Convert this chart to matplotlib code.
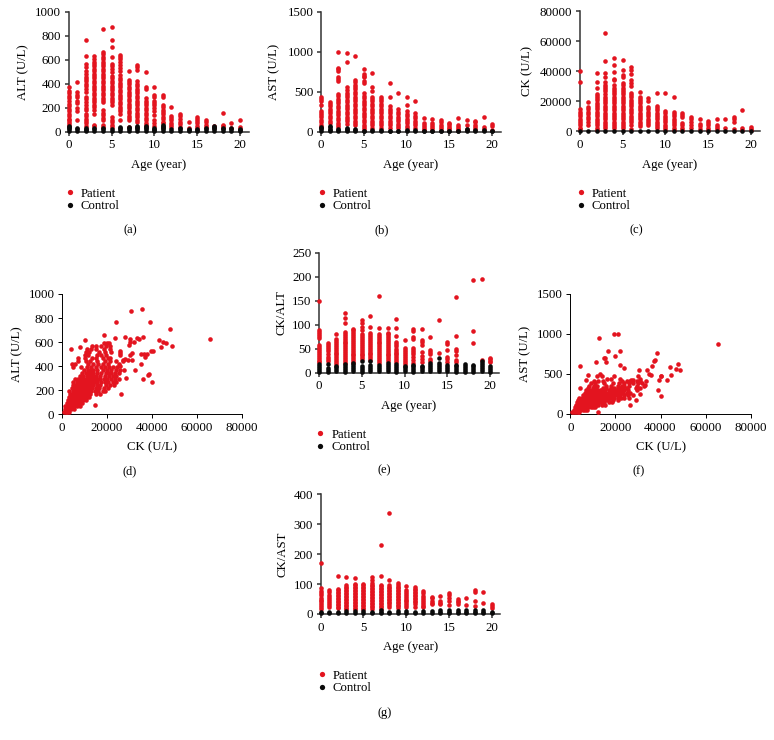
import matplotlib
matplotlib.use("Agg")
import matplotlib.pyplot as plt

W, H = 774, 740
RED = "#e3141f"
BLACK = "#0a0a0a"
SPINE = "#333333"
TICK_SIZE = 9.3
LABEL_SIZE = 9.2
MARKER = 3.3

plt.rcParams["font.family"] = ["Liberation Serif", "DejaVu Serif"]

AGES = list(range(21))
AGE_TICKS = [0, 5, 10, 15, 20]

# ===================== values, one inner list per age =====================

alt_patient = [
    [375, 340, 320, 300, 280, 260, 235, 215, 190, 170, 150, 130, 110, 95, 80, 65, 50],
    [415, 330, 310, 290, 260, 240, 200, 175, 95],
    [770, 635, 565, 540, 510, 480, 460, 440, 420, 400, 380, 360, 330, 290, 270, 250, 225, 200, 180, 150, 130, 110, 90, 70, 50],
    [630, 605, 585, 565, 545, 525, 505, 485, 465, 445, 425, 405, 385, 365, 345, 325, 305, 285, 265, 245, 225, 205, 185, 145, 55, 45],
    [855, 665, 645, 625, 605, 585, 565, 545, 525, 505, 485, 465, 445, 425, 405, 385, 365, 345, 325, 305, 285, 265, 245, 180, 160, 140, 115, 95, 60, 40],
    [875, 765, 705, 625, 565, 545, 525, 495, 465, 445, 425, 405, 385, 365, 345, 325, 305, 285, 265, 245, 220, 120, 100, 80, 60, 40],
    [640, 625, 605, 585, 560, 535, 510, 470, 450, 430, 410, 390, 370, 350, 330, 310, 290, 270, 250, 230, 210, 190, 170, 150, 100],
    [510, 435, 415, 395, 375, 355, 335, 315, 295, 275, 255, 235, 215, 195, 175, 155, 135, 115, 95, 40],
    [560, 540, 515, 420, 400, 380, 360, 340, 320, 300, 280, 260, 240, 220, 200, 180, 160, 140, 120, 100, 80],
    [500, 375, 355, 280, 260, 240, 220, 200, 180, 160, 140, 115, 95, 75, 60],
    [375, 310, 290, 260, 240, 220, 200, 175, 140, 95, 70, 45],
    [305, 290, 225, 205, 185, 165, 145, 125, 105, 85, 70],
    [205, 135, 115, 95, 75, 55, 40],
    [150, 130, 110, 85, 65, 40],
    [80, 30],
    [120, 105, 90, 70, 50, 35],
    [100, 85, 60, 40],
    [45, 35],
    [155, 60, 45, 30],
    [75, 30],
    [100, 40, 25],
]
alt_control = [
    [50, 40, 30, 20, 10], [30, 20, 10], [35, 25, 15, 8], [30, 20, 10], [30, 20, 10],
    [20, 10], [40, 30, 20, 10], [40, 30, 20, 10], [50, 40, 30, 20, 10], [50, 40, 30, 20, 10],
    [35, 25, 15, 8], [60, 50, 40, 30, 20, 10], [20, 10], [30, 20, 10], [25, 15, 8],
    [25, 15, 8], [30, 20, 10], [50, 40, 30, 20, 10], [30, 20, 10], [30, 20, 10], [25, 15, 8],
]

ast_patient = [
    [430, 410, 380, 340, 260, 235, 210, 180, 150, 120, 90, 60],
    [370, 345, 320, 290, 260, 230, 200, 170, 140, 105],
    [1005, 800, 780, 760, 680, 660, 640, 475, 445, 415, 385, 355, 325, 295, 265, 235, 205, 175, 145, 115, 85, 60],
    [990, 875, 565, 520, 490, 460, 430, 400, 370, 340, 310, 280, 250, 220, 190, 160, 130, 100],
    [945, 650, 620, 590, 560, 530, 500, 470, 440, 410, 380, 350, 320, 290, 260, 230, 200, 170, 140, 110, 80],
    [790, 720, 700, 680, 640, 610, 480, 450, 420, 390, 360, 330, 300, 270, 240, 210, 180, 150, 120, 90, 60, 35],
    [735, 560, 510, 440, 410, 380, 350, 320, 290, 260, 230, 200, 170, 140, 110, 80, 50],
    [440, 410, 380, 350, 320, 290, 260, 230, 200, 170, 140, 110, 80, 50],
    [610, 440, 320, 290, 260, 230, 200, 170, 140, 110, 80, 50],
    [485, 280, 250, 220, 190, 160, 130, 100, 70, 45],
    [440, 335, 255, 225, 195, 165, 135, 105, 75, 45],
    [390, 230, 200, 170, 140, 110, 80, 50],
    [175, 115, 90, 60, 40, 25],
    [160, 110, 85, 60, 35],
    [145, 125, 90, 65, 40],
    [115, 100, 75, 50, 30],
    [175, 90, 65, 40, 20],
    [150, 80, 40],
    [140, 120, 85, 55, 30],
    [190, 60, 35],
    [95, 75, 25],
]
ast_control = [
    [60, 45, 30, 15], [70, 55, 40, 25, 12], [40, 25, 12], [50, 35, 20, 10], [35, 20, 10],
    [15, 8], [25, 12], [20, 10], [15, 8], [15, 8],
    [20, 10], [20, 10], [15, 8], [15, 8], [15, 8],
    [15, 8], [15, 8], [40, 25, 12], [25, 12], [25, 12], [15, 8],
]

ck_patient = [
    [40000, 32500, 14500, 13000, 11500, 10000, 8500, 7000, 5500, 4000, 2500, 1200],
    [19500, 16000, 14500, 13000, 11500, 9500, 8000, 6000, 4000],
    [39000, 33000, 28500, 25000, 23500, 22000, 20500, 19000, 17500, 16000, 14500, 13000, 11500, 10000, 8500, 7000, 5500, 4000, 2500, 1000],
    [65500, 46500, 39000, 36000, 33000, 31000, 29500, 28000, 26500, 25000, 23000, 21500, 20000, 18500, 17000, 15500, 14000, 12500, 11000, 9500, 8000, 6500, 5000, 3500, 2000],
    [48500, 44000, 39500, 35000, 34000, 30500, 29000, 27500, 26000, 24500, 23000, 21500, 20000, 18500, 17000, 15500, 14000, 12500, 11000, 9500, 8000, 6500, 5000, 3500, 2000],
    [47500, 40500, 37500, 36000, 32000, 30500, 29000, 27500, 26000, 24500, 23000, 21500, 20000, 18500, 17000, 15500, 14000, 12500, 11000, 9500, 8000, 6500, 5000, 3500, 2000],
    [43000, 41000, 38000, 34000, 32000, 30000, 25500, 24000, 22500, 21000, 19500, 18000, 16500, 15000, 13500, 12000, 10500, 9000, 7500, 6000, 4500, 1500],
    [26000, 23000, 21500, 20000, 18500, 17000, 15500, 14000, 12500, 11000, 9500, 8000, 6500, 5000, 3500],
    [22000, 20000, 16000, 14500, 13000, 11500, 10000, 8500, 7000, 5500, 4000],
    [25500, 17000, 15500, 14000, 12500, 11000, 9500, 8000, 6500, 5000, 3500, 2000],
    [25500, 13500, 12000, 10500, 9000, 7500, 6000, 4500, 3000, 1500],
    [22500, 13000, 11500, 10000, 8500, 7000, 5500, 4000, 2500, 1000],
    [12500, 11000, 9500, 5500, 4000, 2500, 1000],
    [9500, 8000, 6000, 4000, 2000],
    [8500, 5000, 3500, 1500],
    [7000, 5500, 4000, 2500, 1000],
    [8000, 4500, 3000, 1500],
    [8500, 2500],
    [9500, 8000, 6500, 1500],
    [14000, 2000, 1000],
    [2800, 1800, 800],
]
ck_control = [
    [400], [300], [300], [400], [300], [300], [300], [300], [400], [300], [300],
    [300], [300], [300], [300], [300], [300], [400], [300], [300], [300],
]

ck_alt_patient = [
    [150, 88, 84, 80, 76, 72, 57, 53, 49, 45, 41, 37, 33, 29, 25, 22],
    [62, 58, 54, 50, 45, 38, 33, 28, 24],
    [80, 70, 66, 62, 58, 54, 50, 46, 42, 38, 34, 30, 26, 22, 18],
    [125, 115, 103, 85, 81, 77, 73, 69, 65, 61, 57, 53, 49, 45, 41, 37, 33, 29, 25, 21],
    [92, 88, 84, 80, 76, 72, 68, 64, 60, 56, 52, 48, 44, 40, 36, 32, 28, 24, 20],
    [110, 103, 95, 90, 80, 76, 72, 68, 64, 60, 56, 52, 48, 44, 40, 36, 32, 28],
    [118, 95, 82, 78, 74, 70, 66, 62, 58, 54, 50, 46, 42, 38, 34, 30, 26],
    [160, 94, 81, 77, 73, 69, 65, 61, 57, 53, 49, 45, 41, 37, 33, 29, 25, 21],
    [94, 83, 80, 76, 72, 68, 64, 60, 56, 52, 48, 44, 40, 36, 32, 28, 24],
    [112, 94, 76, 65, 60, 55, 50, 46, 42, 38, 34, 30, 26, 22],
    [69, 52, 47, 43, 38, 34, 30, 26, 22, 18],
    [92, 87, 75, 70, 52, 48, 44, 38, 33, 26, 20],
    [91, 68, 64, 58, 44, 34, 28, 22],
    [75, 47, 43, 38, 28, 24],
    [109, 42],
    [65, 60, 48, 33, 28, 23],
    [157, 76, 50, 46, 37, 27, 22],
    [],
    [194, 86, 62],
    [196, 26],
    [31, 28, 25, 22],
]
ck_alt_control = [
    [18, 14, 10, 6, 2], [18, 10, 6, 2], [15, 11, 7, 3], [18, 14, 10, 6, 2], [20, 16, 12, 8, 4],
    [25, 14, 10, 6, 2], [24, 16, 12, 8, 4], [16, 12, 8, 4], [20, 16, 12, 8, 4], [18, 14, 10, 6, 2],
    [15, 11, 7, 3], [17, 13, 9, 5, 2], [15, 11, 7, 3], [20, 16, 12, 8, 4], [30, 20, 16, 12, 8, 4],
    [16, 12, 8, 4], [17, 13, 9, 5, 2], [18, 14, 10, 6, 2], [17, 13, 9, 5, 2], [24, 20, 16, 12, 8, 4], [14, 10, 6, 2],
]

ck_ast_patient = [
    [172, 87, 78, 70, 62, 55, 48, 42, 36, 30, 24, 18],
    [80, 72, 65, 58, 50, 43, 36, 30, 22],
    [126, 84, 79, 74, 69, 64, 59, 54, 49, 44, 39, 34, 29, 24, 19],
    [123, 96, 91, 86, 81, 76, 71, 66, 61, 56, 51, 46, 41, 36, 31, 26, 21, 16],
    [120, 101, 96, 91, 86, 81, 76, 71, 66, 61, 56, 51, 46, 41, 36, 31, 26, 21, 16],
    [100, 96, 91, 86, 81, 76, 71, 66, 61, 56, 51, 46, 41, 36, 31, 26, 21, 16],
    [122, 112, 103, 98, 93, 88, 83, 78, 73, 68, 63, 58, 53, 48, 43, 38, 33, 28, 23, 18],
    [232, 126, 97, 92, 87, 82, 77, 72, 67, 62, 57, 52, 47, 42, 37, 32, 27, 22, 17],
    [337, 112, 96, 91, 86, 81, 76, 71, 66, 61, 56, 51, 46, 41, 36, 31, 25],
    [104, 96, 91, 86, 81, 76, 71, 66, 61, 56, 51, 46, 41, 36, 31, 26, 20],
    [93, 80, 72, 66, 60, 54, 48, 42, 36, 30, 24],
    [90, 85, 80, 75, 70, 65, 60, 55, 50, 45, 40, 33, 24],
    [76, 70, 60, 52, 46, 40, 34, 28, 22],
    [58, 52, 44, 38, 33],
    [60, 44, 38, 32],
    [70, 62, 55, 42, 30],
    [50, 45, 40, 35],
    [55, 30],
    [80, 72, 45, 28],
    [72, 36],
    [34, 26, 20],
]
ck_ast_control = [
    [8, 3], [7, 3], [7, 3], [10, 5], [9, 4], [10, 5], [8, 3], [12, 6, 2], [8, 3], [10, 5], [9, 4],
    [8, 3], [10, 5], [11, 5], [14, 8, 3], [12, 6, 2], [13, 7, 2], [13, 7, 2], [12, 6, 2], [13, 7, 2], [8, 3],
]

# ck against alt: outlying points, then the dense cloud one alt level at a time
ck_d_outliers = [65600, 48700, 47800, 46300, 44700, 44200, 43000, 40500, 39500, 39000, 40000, 38800, 38200, 36000, 35700, 35800, 36500, 36800, 37800, 34900, 32400, 31800, 30800, 30400, 30200, 29700, 31000, 31200, 30000, 29500, 33500, 34000, 35000, 27800, 28000, 27000, 28500, 26200, 26000, 26000, 25800, 24000, 23500, 18800, 14700, 10300, 4000, 8100]
alt_d_outliers = [630, 565, 705, 590, 605, 560, 620, 530, 530, 770, 265, 335, 325, 290, 875, 645, 500, 480, 505, 420, 370, 600, 855, 630, 600, 580, 510, 450, 490, 450, 635, 630, 505, 640, 460, 450, 300, 165, 530, 510, 400, 765, 635, 660, 75, 615, 540, 560]
alt_d_levels = [20, 45, 70, 95, 120, 145, 170, 195, 220, 245, 270, 295, 320, 345, 370, 395, 420, 445, 470, 495, 520, 545, 570, 590]
ck_d_levels = [
    [800, 1600, 2400, 3200],
    [1200, 2200, 3200, 4200, 5200],
    [1500, 2500, 3500, 4500, 5500, 6500, 7800],
    [2000, 3000, 4000, 5000, 6000, 7000, 8000, 9000],
    [2500, 3500, 4500, 5500, 6500, 7500, 8500, 9500, 10800],
    [3000, 4000, 5000, 6000, 7000, 8000, 9000, 10000, 11000, 12000],
    [3500, 4500, 5500, 6500, 7500, 8500, 9500, 10500, 11500, 12500, 15000, 17000],
    [3300, 4800, 5800, 6800, 7800, 8800, 9800, 10800, 11800, 13000, 14500, 16000, 18000, 19000],
    [4500, 5500, 6500, 7500, 8500, 9500, 10500, 11500, 12500, 13500, 15000, 16500, 18500, 20500],
    [5000, 6000, 7000, 8000, 9000, 10000, 11000, 12000, 13000, 14000, 15500, 17000, 19500, 21500, 23000],
    [5000, 6500, 7500, 8500, 9500, 10500, 11500, 12500, 13500, 14500, 15500, 17500, 19000, 20500, 22500, 24000],
    [5800, 7000, 8500, 9500, 10500, 11500, 12500, 13500, 14500, 16000, 17000, 18500, 20000, 22000, 23500, 25500],
    [8000, 9500, 11000, 12000, 13000, 14000, 15000, 17000, 19000, 21000, 22500, 24000],
    [9000, 10500, 12000, 13000, 14000, 15500, 17500, 19500, 21000, 22000, 23500, 25500],
    [9800, 11500, 13000, 14000, 15500, 18000, 20000, 22000, 24000, 26000, 27500],
    [5000, 8500, 11000, 13000, 15000, 17500, 19000, 21000, 22500, 24500],
    [4500, 6000, 11500, 14000, 16000, 18000, 20500, 25500],
    [7000, 10500, 12500, 15500, 19000, 21500, 24000, 27000],
    [7200, 10000, 13500, 15000, 18000, 20500, 21500],
    [10000, 11500, 15500, 17500, 19500, 26000],
    [10500, 12000, 16500, 19000, 22000],
    [11000, 13000, 15000, 18500, 21500],
    [13500, 15000, 17500, 19500, 21500],
    [18800, 20000, 21000],
]

# ck against ast: outlying points, then the dense cloud one ast level at a time
ck_f_outliers = [65600, 48600, 47800, 46700, 44300, 44700, 43000, 40000, 40400, 40000, 39500, 38500, 38800, 37600, 37000, 36300, 35900, 35000, 34000, 33000, 31000, 30500, 30200, 26300, 24000, 22000, 22200, 21200, 19200, 19800, 16500, 15500, 16000, 15000, 11500, 12800, 4300, 4200, 12300, 7800, 6800, 13200, 14200, 19400, 17900, 21900, 11800, 16200, 28000, 27000, 30800]
ast_f_outliers = [875, 545, 620, 565, 585, 490, 425, 225, 480, 480, 430, 760, 305, 680, 660, 600, 490, 500, 550, 365, 250, 550, 480, 110, 580, 790, 610, 1005, 995, 730, 790, 700, 650, 700, 655, 945, 605, 325, 30, 487, 425, 495, 475, 475, 433, 433, 470, 440, 430, 420, 440]
ast_f_levels = [25, 55, 85, 115, 145, 175, 205, 235, 265, 295, 325, 355, 385, 412]
ck_f_levels = [
    [800, 1600, 2400, 3200, 4000],
    [1500, 2500, 3500, 4500, 5500, 6500, 7500],
    [2000, 3000, 4000, 5000, 6000, 7000, 8000, 9000, 10000, 11000],
    [2500, 3500, 4500, 5500, 6500, 7500, 8500, 9500, 10500, 11500, 12500, 14000, 15500],
    [3000, 4000, 5000, 6000, 7000, 8000, 9000, 10000, 11000, 12000, 13000, 14000, 15000, 17000, 18500],
    [3500, 4500, 5500, 6500, 7500, 8500, 9500, 10500, 11500, 12500, 13500, 14500, 15500, 16500, 19000, 21000, 29000],
    [4000, 5000, 6000, 7000, 8000, 9000, 10000, 11000, 12000, 13000, 14000, 15000, 16000, 17000, 18000, 19500, 21000, 22500, 24000, 26000],
    [5500, 7000, 8500, 9500, 10500, 11500, 12500, 13500, 14500, 15500, 16500, 17500, 18500, 19500, 20500, 22000, 24000, 25500, 28000],
    [6500, 8000, 9000, 10000, 11000, 12000, 13000, 14000, 15000, 16000, 17000, 18000, 19000, 20000, 21000, 22000, 23500, 25000, 26500],
    [7000, 8500, 9500, 11000, 12000, 13000, 14000, 15500, 17000, 18500, 19500, 20500, 21500, 22500, 24000, 25500, 29500],
    [8000, 10000, 11500, 14500, 16000, 18000, 19500, 21000, 22000, 23500, 25000, 29000, 31000],
    [8500, 10500, 12000, 16000, 18000, 21000, 23000, 24000, 26000, 29500, 32500],
    [9000, 11000, 15000, 19000, 21500, 24000, 26000, 28000, 30000, 32000],
    [10500, 12500, 14500, 23000, 25000, 26500, 27500, 29500, 31000, 33500],
]


def age_points(values_by_age):
    xs, ys = [], []
    for age, values in zip(AGES, values_by_age):
        xs += [age] * len(values)
        ys += values
    return xs, ys


def level_points(ck_outliers, y_outliers, levels, ck_by_level):
    xs, ys = list(ck_outliers), list(y_outliers)
    for level, cks in zip(levels, ck_by_level):
        xs += cks
        ys += [level] * len(cks)
    return xs, ys


# ===================== drawing =====================

fig = plt.figure(figsize=(W / 100, H / 100), dpi=100)


def make_axes(x0, x1, y_top, y_bottom, ylabel, xlabel, ylabel_x, xlabel_y, thick):
    ax = fig.add_axes([x0 / W, 1 - y_bottom / H, (x1 - x0) / W, (y_bottom - y_top) / H])
    for side in ("top", "right"):
        ax.spines[side].set_visible(False)
    lw = 1.1 if thick else 0.7
    color = SPINE if thick else "black"
    for side in ("left", "bottom"):
        ax.spines[side].set_linewidth(lw)
        ax.spines[side].set_color(color)
    ax.tick_params(length=3, width=lw, color=color, pad=2.5, labelsize=TICK_SIZE)
    ax.set_xlabel(xlabel, fontsize=LABEL_SIZE, va="center")
    ax.set_ylabel(ylabel, fontsize=LABEL_SIZE, va="center")
    ax.yaxis.set_label_coords((ylabel_x + 1.5 - x0) / (x1 - x0), 0.5)
    ax.xaxis.set_label_coords(0.5, -(xlabel_y + 1.5 - y_bottom) / (y_bottom - y_top))
    return ax


def add_caption(text, x, y):
    fig.text(x / W, 1 - y / H, text, ha="center", va="center", fontsize=9)


def strip_panel(x0, x20, y_top, y_bottom, patient, control, ymax, yticks, ylabel,
                ylabel_x, xlabel_y, legend_x, legend_y, caption, caption_x, caption_y):
    x1 = x0 + (x20 - x0) * 21 / 20
    ax = make_axes(x0, x1, y_top, y_bottom, ylabel, "Age (year)", ylabel_x, xlabel_y, True)
    px, py = age_points(patient)
    cx, cy = age_points(control)
    ax.plot(px, py, "o", ms=MARKER, mew=0, color=RED, clip_on=False, zorder=3, label="Patient")
    ax.plot(cx, cy, "o", ms=MARKER, mew=0, color=BLACK, clip_on=False, zorder=4, label="Control")
    ax.set_xlim(0, 21)
    ax.set_ylim(0, ymax)
    ax.set_xticks(AGE_TICKS)
    ax.set_yticks(yticks)
    ax.legend(loc="upper left", bbox_to_anchor=((legend_x - 5) / W, 1 - (legend_y - 4) / H),
              bbox_transform=fig.transFigure, frameon=False, borderpad=0, borderaxespad=0,
              handlelength=0.8, handletextpad=0.45, labelspacing=0.05, markerscale=1.15,
              fontsize=LABEL_SIZE)
    add_caption(caption, caption_x, caption_y)


def scatter_panel(x0, x1, y_top, y_bottom, xs, ys, ymax, yticks, ylabel,
                  ylabel_x, xlabel_y, caption, caption_x, caption_y):
    ax = make_axes(x0, x1, y_top, y_bottom, ylabel, "CK (U/L)", ylabel_x, xlabel_y, False)
    ax.plot(xs, ys, "o", ms=MARKER, mew=0, color=RED, clip_on=False, zorder=3)
    ax.set_xlim(0, 80000)
    ax.set_ylim(0, ymax)
    ax.set_xticks([0, 20000, 40000, 60000, 80000])
    ax.set_yticks(yticks)
    add_caption(caption, caption_x, caption_y)


strip_panel(68.7, 240, 12, 131.7, alt_patient, alt_control, 1000, [0, 200, 400, 600, 800, 1000],
            "ALT (U/L)", 22, 163, 70, 191.7, "(a)", 130, 230)
strip_panel(321, 492.3, 12, 131.7, ast_patient, ast_control, 1500, [0, 500, 1000, 1500],
            "AST (U/L)", 273, 163, 322, 191.7, "(b)", 381.7, 230)
strip_panel(579.7, 751, 11, 131.3, ck_patient, ck_control, 80000, [0, 20000, 40000, 60000, 80000],
            "CK (U/L)", 526, 163, 581, 191.7, "(c)", 636.7, 230)
scatter_panel(62, 242, 294, 414.3, *level_points(ck_d_outliers, alt_d_outliers, alt_d_levels, ck_d_levels),
              1000, [0, 200, 400, 600, 800, 1000], "ALT (U/L)", 16, 445.7, "(d)", 130, 471.7)
strip_panel(319, 490.3, 252.7, 372.7, ck_alt_patient, ck_alt_control, 250, [0, 50, 100, 150, 200, 250],
            "CK/ALT", 280, 404, 320.3, 432.7, "(e)", 384, 470.7)
scatter_panel(570.3, 750.7, 294, 414, *level_points(ck_f_outliers, ast_f_outliers, ast_f_levels, ck_f_levels),
              1500, [0, 500, 1000, 1500], "AST (U/L)", 524, 446, "(f)", 639, 471)
strip_panel(320.7, 491.7, 494.3, 614, ck_ast_patient, ck_ast_control, 400, [0, 100, 200, 300, 400],
            "CK/AST", 281, 645.7, 322, 673.7, "(g)", 385, 713.3)

fig.savefig("out.png", dpi=100)
